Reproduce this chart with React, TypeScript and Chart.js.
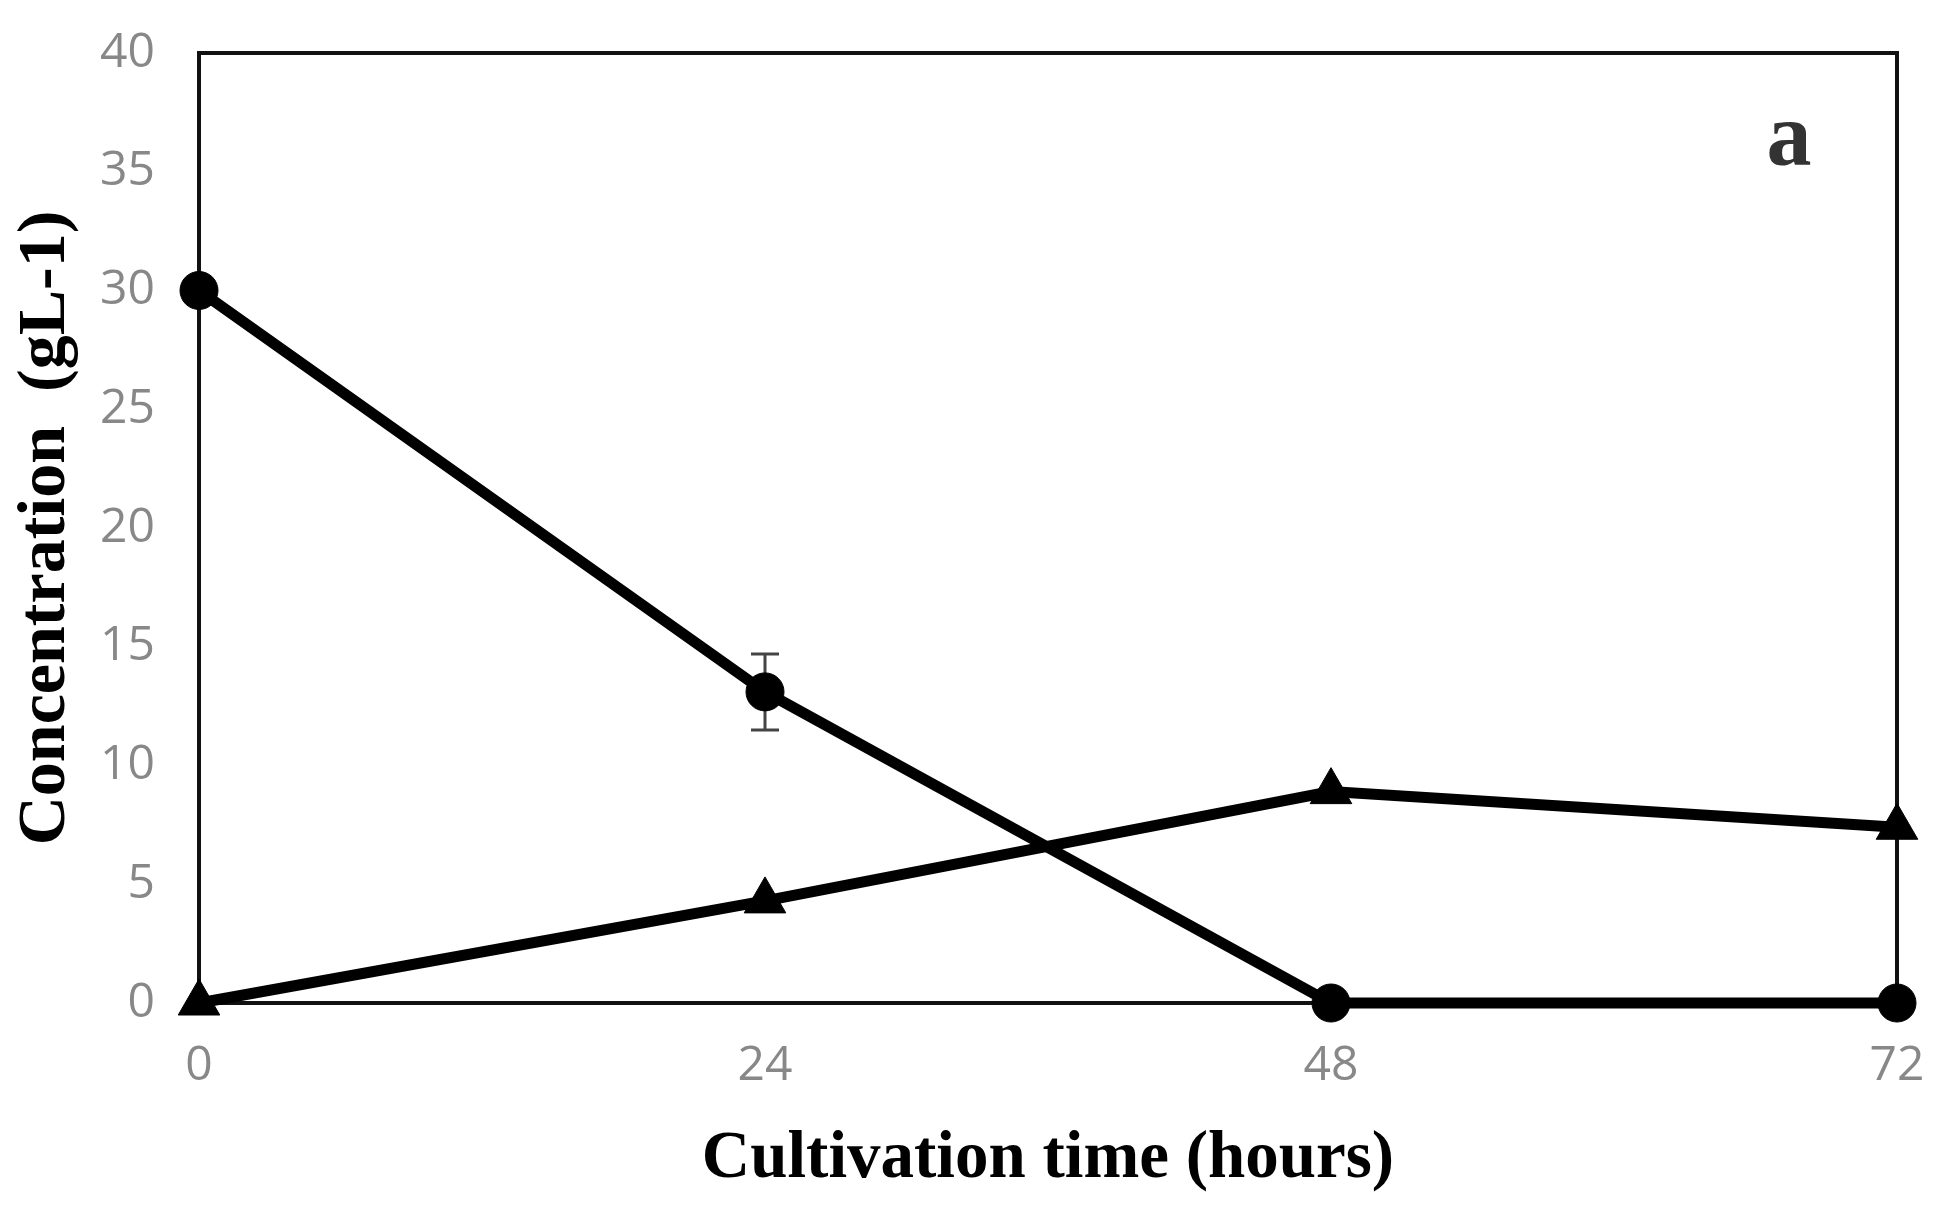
import { useEffect, useRef } from "react"
import { Chart, type ChartConfiguration, registerables } from "chart.js"

Chart.register(...registerables)

// cultivation time (hours)
const hours = [0, 24, 48, 72]
// circles: substrate concentration (g/L)
const substrate = [30, 13.1, 0, 0]
const substrateErr = [0, 1.6, 0, 0]
// triangles: product concentration (g/L)
const product = [0, 4.3, 8.9, 7.4]

const xTicks = [0, 24, 48, 72]
const yTicks = [0, 5, 10, 15, 20, 25, 30, 35, 40]

const panelLabel = "a"

const framePlugin = {
  id: "frame",
  beforeDatasetsDraw(chart: Chart) {
    const { ctx, chartArea: a } = chart
    const xs = chart.scales.x
    const ys = chart.scales.y
    ctx.save()
    ctx.strokeStyle = "#111"
    ctx.lineWidth = 4
    ctx.strokeRect(a.left, a.top, a.right - a.left, a.bottom - a.top)

    // error bars on the circle series
    ctx.strokeStyle = "#444"
    ctx.lineWidth = 3
    substrate.forEach((v, i) => {
      const e = substrateErr[i]
      if (!e) return
      const x = xs.getPixelForValue(hours[i])
      const yHi = ys.getPixelForValue(v + e)
      const yLo = ys.getPixelForValue(v - e)
      ctx.beginPath()
      ctx.moveTo(x, yHi)
      ctx.lineTo(x, yLo)
      ctx.moveTo(x - 14, yHi)
      ctx.lineTo(x + 14, yHi)
      ctx.moveTo(x - 14, yLo)
      ctx.lineTo(x + 14, yLo)
      ctx.stroke()
    })
    ctx.restore()
  },
  afterDraw(chart: Chart) {
    const { ctx, chartArea: a } = chart
    ctx.save()
    ctx.fillStyle = "#333"
    ctx.font = "bold 90px 'Liberation Serif', serif"
    ctx.textAlign = "center"
    ctx.textBaseline = "alphabetic"
    ctx.fillText(panelLabel, a.right - 108, a.top + 112)
    ctx.restore()
  },
}

export default function App() {
  const chartRef = useRef<HTMLCanvasElement>(null)
  const chartInstance = useRef<Chart | null>(null)

  useEffect(() => {
    document.body.style.margin = "0"
    if (!chartRef.current) return
    const ctx = chartRef.current.getContext("2d")
    if (!ctx) return

    if (chartInstance.current) {
      chartInstance.current.destroy()
    }

    const tickFont = { family: "'Open Sans', sans-serif", size: 48 }

    const config: ChartConfiguration = {
      type: "line",
      data: {
        datasets: [
          {
            label: "Substrate",
            data: hours.map((h, i) => ({ x: h, y: substrate[i] })),
            borderColor: "#000",
            backgroundColor: "#000",
            borderWidth: 11,
            pointStyle: "circle",
            pointRadius: 19,
            pointBorderWidth: 1,
            pointBackgroundColor: "#000",
            pointBorderColor: "#000",
            tension: 0,
            clip: false,
          },
          {
            label: "Product",
            data: hours.map((h, i) => ({ x: h, y: product[i] })),
            borderColor: "#000",
            backgroundColor: "#000",
            borderWidth: 11,
            pointStyle: "triangle",
            pointRadius: 24,
            pointBorderWidth: 1,
            pointBackgroundColor: "#000",
            pointBorderColor: "#000",
            tension: 0,
            clip: false,
          },
        ],
      },
      options: {
        responsive: true,
        maintainAspectRatio: false,
        animation: false,
        events: [],
        layout: { autoPadding: false, padding: { top: 53, right: 38, bottom: 0, left: 0 } },
        plugins: {
          legend: { display: false },
          tooltip: { enabled: false },
        },
        scales: {
          x: {
            type: "linear",
            min: xTicks[0],
            max: xTicks[xTicks.length - 1],
            afterBuildTicks: (scale) => {
              scale.ticks = xTicks.map((v) => ({ value: v }))
            },
            afterFit: (scale) => {
              scale.height = 212
              scale.paddingLeft = 0
              scale.paddingRight = 0
            },
            grid: { display: false, drawTicks: false },
            border: { display: false },
            ticks: { color: "#888", font: tickFont, padding: 35, maxRotation: 0 },
            title: {
              display: true,
              text: "Cultivation time (hours)",
              color: "#000",
              font: { family: "'Liberation Serif', serif", size: 67, weight: "bold" },
              padding: { top: 0, bottom: 15 },
            },
          },
          y: {
            type: "linear",
            min: yTicks[0],
            max: yTicks[yTicks.length - 1],
            afterBuildTicks: (scale) => {
              scale.ticks = yTicks.map((v) => ({ value: v }))
            },
            afterFit: (scale) => {
              scale.width = 199
              scale.paddingTop = 0
              scale.paddingBottom = 0
            },
            grid: { display: false, drawTicks: false },
            border: { display: false },
            ticks: { color: "#888", font: tickFont, padding: 44 },
            title: {
              display: true,
              text: "Concentration  (gL-1)",
              color: "#000",
              font: { family: "'Liberation Serif', serif", size: 68, weight: "bold" },
              padding: { top: 6, bottom: 0 },
            },
          },
        },
      },
      plugins: [framePlugin],
    }

    chartInstance.current = new Chart(ctx, config)

    return () => {
      if (chartInstance.current) {
        chartInstance.current.destroy()
      }
    }
  }, [])

  return (
    <div style={{ width: "1935px", height: "1215px", background: "#fff" }}>
      <canvas ref={chartRef} />
    </div>
  )
}
